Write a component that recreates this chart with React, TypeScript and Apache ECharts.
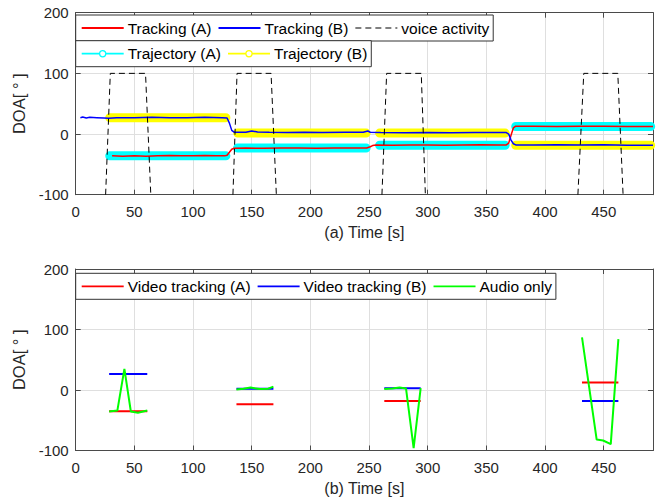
import React, { useEffect, useRef } from "react";
import * as echarts from "echarts";

// ---------- data ----------
const X_MAX = 492;
const X_INTERVAL = 50;
const Y_MIN = -100;
const Y_MAX = 200;
const Y_INTERVAL = 100;

const trackingA: any[] = [
  [31, -36], [40, -36.5], [50, -36], [60, -36.5], [70, -36], [80, -35.5], [90, -36], [100, -36],
  [110, -35.5], [120, -36], [127, -36], [129, -35], [131, -30], [133, -25], [135, -23.5], [145, -23],
  [160, -23.5], [175, -23], [190, -23], [205, -23.5], [220, -23], [235, -23], [248, -23], [251, -21],
  [253, -19], [256, -18], [270, -18.5], [285, -18], [300, -18], [315, -18.5], [330, -18], [345, -17.5],
  [360, -18], [367, -18], [369, -15], [371, -2], [373, 10], [375, 13], [390, 13], [410, 12.5],
  [430, 13], [450, 13], [470, 12.5], [492, 12.5],
];
const trackingB: any[] = [
  [4, 27], [6, 28], [9, 26.5], [12, 27.5], [18, 27], [24, 26.5], [28, 26], [35, 27], [50, 27],
  [65, 27.5], [80, 27], [95, 27], [110, 27.5], [125, 27], [129, 26.5], [131, 18], [133, 6], [135, 3],
  [145, 3], [150, 5], [155, 3.5], [165, 3], [180, 2.5], [195, 3], [210, 2.5], [230, 3], [245, 3],
  [249, 5], [251, 3], [260, 2.5], [280, 2], [300, 2.5], [320, 2], [340, 2.5], [360, 2.5], [367, 2.5],
  [369, 0], [371, -10], [373, -16], [375, -18], [390, -18], [410, -17.5], [430, -18], [450, -17.5],
  [470, -18.5], [492, -18.5],
];
const trajectoryA: any[] = [
  [29, -36], [128, -36], "-", [138, -23], [247.5, -23], "-", [259, -18.5], [366, -18.5], "-",
  [375, 12.5], [490, 12.5],
];
const trajectoryB: any[] = [
  [29, 27], [128, 27], "-", [138, 1.5], [247.5, 1.5], "-", [259, 1.5], [366, 1.5], "-",
  [375, -18.5], [490, -18.5],
];
const voiceActivity: any[] = [
  [25.5, -100], [29.5, 100], [59.5, 100], [64, -100], "-",
  [134, -100], [137.5, 100], [166.5, 100], [171, -100], "-",
  [261, -100], [265, 100], [294.5, 100], [298, -100], "-",
  [428, -100], [433, 100], [462, 100], [466.5, -100],
];

const videoA: any[] = [
  [28.5, -35], [61, -35], "-", [137, -23.5], [168.5, -23.5], "-", [263, -18], [294, -18], "-",
  [431.5, 12.5], [462.5, 12.5],
];
const videoB: any[] = [
  [28.5, 26.5], [61, 26.5], "-", [137, 2], [168.5, 2], "-", [263, 3], [294, 3], "-",
  [431.5, -18], [462.5, -18],
];
const audioOnly: any[] = [
  [28.5, -35.5], [35.5, -34], [41.5, 35], [47, -35.5], [53, -37.5], [61, -34], "-",
  [137, 1], [143, 2], [149, 4], [157, 1.5], [164, 2], [168.5, 5.5], "-",
  [263, 1.5], [270, 2.5], [276, 4], [281.5, 2.5], [288, -96], [294, 3], "-",
  [431.5, 87], [444, -82], [449.5, -83.5], [456, -89.5], [462.5, 84],
];

// ---------- legend icons (42 x 14 box; corner specks fix the bounding box) ----------
const CORNERS = "M0,0h0.01v0.01h-0.01Z M41.99,13.99h0.01v0.01h-0.01Z ";
const ICON_LINE = "path://" + CORNERS + "M0,6.1H42V7.9H0Z";
const ICON_DASH =
  "path://" + CORNERS + "M0,6.4H6V7.6H0Z M10,6.4H16V7.6H10Z M20,6.4H26V7.6H20Z M30,6.4H36V7.6H30Z M40,6.4H42V7.6H40Z";
const ICON_MARK =
  "path://" + CORNERS +
  "M0,6.1H17.4V7.9H0Z M24.6,6.1H42V7.9H24.6Z " +
  "M21,3.3A3.7,3.7 0 1,1 21,10.7A3.7,3.7 0 1,1 21,3.3Z " +
  "M21,4.5A2.5,2.5 0 1,0 21,9.5A2.5,2.5 0 1,0 21,4.5Z";

const legendTop = [
  { name: "Tracking (A)", icon: ICON_LINE },
  { name: "Tracking (B)", icon: ICON_LINE },
  { name: "voice activity", icon: ICON_DASH },
];
const legendTop2 = [
  { name: "Trajectory (A)", icon: ICON_MARK },
  { name: "Trajectory (B)", icon: ICON_MARK },
];
const legendBottom = [
  { name: "Video tracking (A)", icon: ICON_LINE },
  { name: "Video tracking (B)", icon: ICON_LINE },
  { name: "Audio only", icon: ICON_LINE },
];

// ---------- styles ----------
const FONT = "Liberation Sans, Arial, Helvetica, sans-serif";
const TXT = "#262626";
const AXIS = "#4a4a4a";
const GRIDC = "#dfdfdf";

function xAxes(gridIndex: number, name: string) {
  const common = {
    gridIndex,
    type: "value",
    min: 0,
    max: X_MAX,
    interval: X_INTERVAL,
    axisLine: { show: true, onZero: false, lineStyle: { color: AXIS, width: 1 } },
    axisTick: { show: true, inside: true, length: 5, lineStyle: { color: AXIS } },
  };
  return [
    {
      ...common,
      position: "bottom",
      axisLabel: {
        show: true,
        margin: 9,
        showMaxLabel: false,
        fontSize: 15,
        color: TXT,
        fontFamily: FONT,
        formatter: (v: number) => (v % X_INTERVAL === 0 ? String(v) : ""),
      },
      splitLine: { show: true, lineStyle: { color: GRIDC, width: 1 } },
      name,
      nameLocation: "middle",
      nameGap: 30,
      nameTextStyle: { fontSize: 16, color: TXT, fontFamily: FONT },
    },
    {
      ...common,
      position: "top",
      axisLabel: { show: false },
      splitLine: { show: false },
    },
  ];
}

function yAxes(gridIndex: number) {
  const common = {
    gridIndex,
    type: "value",
    min: Y_MIN,
    max: Y_MAX,
    interval: Y_INTERVAL,
    axisLine: { show: true, onZero: false, lineStyle: { color: AXIS, width: 1 } },
    axisTick: { show: true, inside: true, length: 5, lineStyle: { color: AXIS } },
  };
  return [
    {
      ...common,
      position: "left",
      axisLabel: { show: true, margin: 7, fontSize: 15, color: TXT, fontFamily: FONT },
      splitLine: { show: true, lineStyle: { color: GRIDC, width: 1 } },
      name: "DOA[ ° ]",
      nameLocation: "middle",
      nameGap: 44,
      nameTextStyle: { fontSize: 16.5, color: TXT, fontFamily: FONT },
    },
    {
      ...common,
      position: "right",
      axisLabel: { show: false },
      splitLine: { show: false },
    },
  ];
}

function legendBox(data: any[], left: number, top: number) {
  return {
    data,
    left,
    top,
    orient: "horizontal",
    itemWidth: 42,
    itemHeight: 14,
    itemGap: 7,
    padding: [5, 4, 5, 6],
    borderColor: "#333333",
    borderWidth: 1,
    borderRadius: 0,
    backgroundColor: "#ffffff",
    selectedMode: false,
    itemStyle: { borderWidth: 0 },
    textStyle: { fontSize: 15.5, color: "#000", fontFamily: FONT, lineHeight: 16, padding: [0, 0, 0, -1] },
  };
}

export default function App() {
  const ref = useRef<HTMLDivElement>(null);

  useEffect(() => {
    if (!ref.current) return;
    const chart = echarts.init(ref.current, undefined, { renderer: "svg" });
    const option: any = {
      animation: false,
      backgroundColor: "#ffffff",
      textStyle: { fontFamily: FONT },
      grid: [
        { left: 75.7, top: 12.7, width: 577.3, height: 182, containLabel: false },
        { left: 75.7, top: 269, width: 577.3, height: 181.5, containLabel: false },
      ],
      legend: [
        legendBox(legendTop, 75.7, 15),
        legendBox(legendTop2, 75.7, 40.7),
        legendBox(legendBottom, 75.7, 273.3),
      ],
      xAxis: [...xAxes(0, "(a) Time [s]"), ...xAxes(1, "(b) Time [s]")],
      yAxis: [...yAxes(0), ...yAxes(1)],
      series: [
        {
          name: "Trajectory (A)",
          type: "line",
          xAxisIndex: 0,
          yAxisIndex: 0,
          data: trajectoryA,
          symbol: "none",
          clip: false,
          connectNulls: false,
          itemStyle: { color: "#00ffff" },
          lineStyle: { color: "#00ffff", width: 9, cap: "round" },
          z: 2,
        },
        {
          name: "Trajectory (B)",
          type: "line",
          xAxisIndex: 0,
          yAxisIndex: 0,
          data: trajectoryB,
          symbol: "none",
          clip: false,
          connectNulls: false,
          itemStyle: { color: "#ffff00" },
          lineStyle: { color: "#ffff00", width: 9, cap: "round" },
          z: 2,
        },
        {
          name: "Tracking (A)",
          type: "line",
          xAxisIndex: 0,
          yAxisIndex: 0,
          data: trackingA,
          symbol: "none",
          itemStyle: { color: "#ff0000" },
          lineStyle: { color: "#ff0000", width: 1.5 },
          z: 3,
        },
        {
          name: "Tracking (B)",
          type: "line",
          xAxisIndex: 0,
          yAxisIndex: 0,
          data: trackingB,
          symbol: "none",
          itemStyle: { color: "#0000ff" },
          lineStyle: { color: "#0000ff", width: 1.5 },
          z: 3,
        },
        {
          name: "voice activity",
          type: "line",
          xAxisIndex: 0,
          yAxisIndex: 0,
          data: voiceActivity,
          symbol: "none",
          connectNulls: false,
          itemStyle: { color: "#000000" },
          lineStyle: { color: "#000000", width: 1, type: [6, 4] },
          z: 4,
        },
        {
          name: "Video tracking (A)",
          type: "line",
          xAxisIndex: 2,
          yAxisIndex: 2,
          data: videoA,
          symbol: "none",
          connectNulls: false,
          itemStyle: { color: "#ff0000" },
          lineStyle: { color: "#ff0000", width: 2 },
          z: 3,
        },
        {
          name: "Video tracking (B)",
          type: "line",
          xAxisIndex: 2,
          yAxisIndex: 2,
          data: videoB,
          symbol: "none",
          connectNulls: false,
          itemStyle: { color: "#0000ff" },
          lineStyle: { color: "#0000ff", width: 2 },
          z: 3,
        },
        {
          name: "Audio only",
          type: "line",
          xAxisIndex: 2,
          yAxisIndex: 2,
          data: audioOnly,
          symbol: "none",
          connectNulls: false,
          itemStyle: { color: "#00ff00" },
          lineStyle: { color: "#00ff00", width: 2 },
          z: 4,
        },
      ],
    };
    chart.setOption(option);
    return () => chart.dispose();
  }, []);

  return (
    <div
      ref={ref}
      style={{ position: "fixed", left: 0, top: 0, width: 657, height: 501, background: "#fff" }}
    />
  );
}
